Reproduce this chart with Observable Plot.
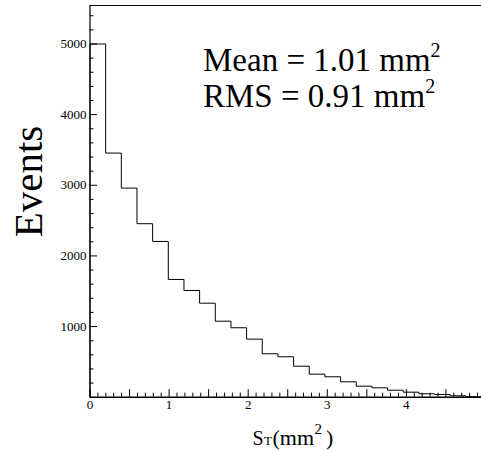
<!DOCTYPE html>
<html>
<head>
<meta charset="utf-8">
<script src="https://cdn.jsdelivr.net/npm/d3@7"></script>
<script src="https://cdn.jsdelivr.net/npm/@observablehq/plot@0.6"></script>
<style>
  html, body { margin: 0; padding: 0; background: #fff; }
  #chart svg { display: block; }
  #chart svg text { font-family: "Liberation Serif", "Times New Roman", serif !important; }
</style>
</head>
<body>
<div id="chart"></div>
<script>
// ---- data ----
const binWidth = 0.198;                 // mm^2 per bin
const counts = [5000, 3456, 2960, 2456, 2205, 1667, 1511, 1331, 1076, 983,
                822, 615, 572, 439, 326, 289, 218, 156, 133, 99,
                71, 48, 38, 20, 6];
const xTickLabels = [0, 1, 2, 3, 4];
const yTickLabels = [1000, 2000, 3000, 4000, 5000];
const statsLines = [["Mean = 1.01 mm", "2"], ["RMS = 0.91 mm", "2"]];
const xTitle = {main: "S", sub: "T", rest: "(mm", sup: "2", end: ")"};
const yTitle = "Events";

// ---- derived tables ----
const nBins = counts.length;
const xMax = nBins * binWidth;
const steps = [{x: 0, y: 0}]
  .concat(counts.map((c, i) => ({x: i * binWidth, y: c})))
  .concat([{x: xMax, y: 0}]);
const xMinor = d3.range(0, 50).map(i => i / 10);
const xMajor = xMinor.filter((d, i) => i % 5 === 0);
const xSmall = xMinor.filter((d, i) => i % 5 !== 0);
const yMinor = d3.range(1, 28).map(i => i * 200);
const yMajor = yMinor.filter(d => d % 1000 === 0);
const ySmall = yMinor.filter(d => d % 1000 !== 0);

const W = 481, H = 451;
const mL = 89.5, mT = 5, mB = 54.3, mR = 0;
const innerW = W - mL - mR, innerH = H - mT - mB;
const font = "'Liberation Serif', 'Times New Roman', serif";

const plot = Plot.plot({
  width: W, height: H,
  marginLeft: mL, marginRight: mR, marginTop: mT, marginBottom: mB,
  style: {fontFamily: font, background: "white", color: "black"},
  x: {domain: [0, xMax], label: null},
  y: {domain: [0, 5545], label: null},
  marks: [
    Plot.axisX({ticks: xTickLabels, tickSize: 0, tickPadding: 3, fontSize: 13, fontFamily: font, tickFormat: d => String(d), label: null}),
    Plot.axisY({ticks: yTickLabels, tickSize: 0, tickPadding: 3.5, fontSize: 13, fontFamily: font, tickFormat: d => String(d), label: null}),
    // inward ticks
    Plot.ruleX(xMajor, {x: d => d, insetTop: innerH - 7.5, stroke: "black", strokeWidth: 1}),
    Plot.ruleX(xSmall, {x: d => d, insetTop: innerH - 4, stroke: "black", strokeWidth: 1}),
    Plot.ruleY(yMajor, {y: d => d, insetRight: innerW - 7.5, stroke: "black", strokeWidth: 1}),
    Plot.ruleY(ySmall, {y: d => d, insetRight: innerW - 4, stroke: "black", strokeWidth: 1}),
    // histogram outline
    Plot.line(steps, {x: "x", y: "y", curve: "step-after", stroke: "black", strokeWidth: 1}),
    // frame: left, bottom, top
    Plot.ruleX([0], {stroke: "black", strokeWidth: 1.2}),
    Plot.ruleY([0], {stroke: "black", strokeWidth: 1.6}),
    Plot.ruleY([5545], {stroke: "black", strokeWidth: 1})
  ]
});
document.getElementById("chart").appendChild(plot);

const svg = d3.select(plot);

// stats text
statsLines.forEach((ln, i) => {
  const t = svg.append("text")
    .attr("x", 203).attr("y", 70.7 + i * 36.6)
    .attr("text-anchor", "start")
    .attr("font-size", 33).attr("fill", "black");
  t.append("tspan").text(ln[0]);
  t.append("tspan").attr("font-size", 20).attr("dy", -14).text(ln[1]);
});

// x title (pieces placed individually, ROOT-style)
function put(x, y, size, s) {
  svg.append("text").attr("x", x).attr("y", y)
    .attr("text-anchor", "start").attr("font-size", size).attr("fill", "black").text(s);
}
put(252.5, 445, 20, xTitle.main);
put(264, 445, 13, xTitle.sub);
put(272.5, 445, 22, xTitle.rest);
put(314.5, 433.5, 15, xTitle.sup);
put(326, 445, 22, xTitle.end);

// y title
svg.append("text")
  .attr("transform", "translate(42,181.5) rotate(-90)")
  .attr("text-anchor", "middle")
  .attr("font-size", 41).attr("fill", "black")
  .text(yTitle);
</script>
</body>
</html>
